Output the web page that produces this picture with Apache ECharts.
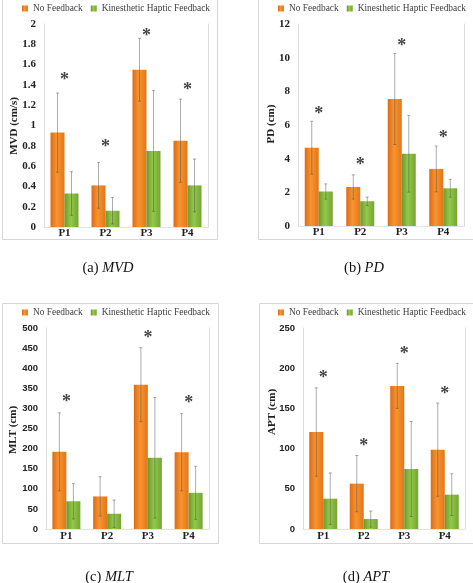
<!DOCTYPE html>
<html>
<head>
<meta charset="utf-8">
<script src="https://cdn.jsdelivr.net/npm/echarts@6/dist/echarts.min.js"></script>
<style>
html,body{margin:0;padding:0;background:#fff;}
#chart{width:473px;height:583px;}
</style>
</head>
<body>
<div id="chart"></div>
<script>
// ---------- DATA ----------
const categories = ['P1', 'P2', 'P3', 'P4'];
const seriesNames = ['No Feedback', 'Kinesthetic Haptic Feedback'];

// (a) MVD (cm/s)
const mvdNoFeedback = [0.93, 0.41, 1.55, 0.85];
const mvdNoFeedbackSd = [0.39, 0.225, 0.31, 0.41];
const mvdHaptic = [0.33, 0.16, 0.75, 0.41];
const mvdHapticSd = [0.215, 0.13, 0.595, 0.26];
const mvdStars = [1.48, 0.82, 1.92, 1.39];
const mvdTicks = { min: 0, max: 2, interval: 0.2 };

// (b) PD (cm)
const pdNoFeedback = [4.65, 2.32, 7.54, 3.39];
const pdNoFeedbackSd = [1.57, 0.72, 2.70, 1.36];
const pdHaptic = [2.05, 1.47, 4.29, 2.24];
const pdHapticSd = [0.45, 0.25, 2.28, 0.53];
const pdStars = [6.9, 3.82, 10.9, 5.45];
const pdTicks = { min: 0, max: 12, interval: 2 };

// (c) MLT (cm)
const mltNoFeedback = [192, 81, 359, 191];
const mltNoFeedbackSd = [97, 49, 92, 96];
const mltHaptic = [69, 38, 177, 90];
const mltHapticSd = [44, 34, 150, 66];
const mltStars = [324, null, 483, 322];
const mltTicks = { min: 0, max: 500, interval: 50 };

// (d) APT (cm)
const aptNoFeedback = [120.6, 56.4, 178, 98.7];
const aptNoFeedbackSd = [55, 35, 28, 58];
const aptHaptic = [37.7, 12.4, 74.6, 42.7];
const aptHapticSd = [32, 10, 59, 26];
const aptStars = [192, 108, 222, 173];
const aptTicks = { min: 0, max: 250, interval: 50 };

// ---------- LAYOUT / STYLE ----------
const panels = [
  { label: '(a) ', italic: 'MVD', axisName: 'MVD (cm/s)', noFb: mvdNoFeedback, noFbSd: mvdNoFeedbackSd, hap: mvdHaptic, hapSd: mvdHapticSd, stars: mvdStars, ticks: mvdTicks,
    grid: { left: 44, top: 24, width: 164, height: 203 }, tickFont: 'Liberation Serif', tickSize: 11, legend: { left: 22, top: 4 },
    frame: { x: 2, y: -2, w: 215, h: 241 }, caption: { x: 108, y: 268 }, nameX: 14, nameY: 126, catMargin: 1 },
  { label: '(b) ', italic: 'PD', axisName: 'PD (cm)', noFb: pdNoFeedback, noFbSd: pdNoFeedbackSd, hap: pdHaptic, hapSd: pdHapticSd, stars: pdStars, ticks: pdTicks,
    grid: { left: 298, top: 24, width: 166, height: 202 }, tickFont: 'Liberation Serif', tickSize: 11, legend: { left: 278, top: 4 },
    frame: { x: 258, y: -2, w: 220, h: 241 }, caption: { x: 364, y: 268 }, nameX: 271, nameY: 124, catMargin: 1 },
  { label: '(c) ', italic: 'MLT', axisName: 'MLT (cm)', noFb: mltNoFeedback, noFbSd: mltNoFeedbackSd, hap: mltHaptic, hapSd: mltHapticSd, stars: mltStars, ticks: mltTicks,
    grid: { left: 46, top: 328, width: 163, height: 201 }, tickFont: 'Liberation Sans', tickSize: 9.5, legend: { left: 22, top: 308 },
    frame: { x: 2, y: 303, w: 216, h: 240 }, caption: { x: 109, y: 577 }, nameX: 13, nameY: 430, catMargin: 2 },
  { label: '(d) ', italic: 'APT', axisName: 'APT (cm)', noFb: aptNoFeedback, noFbSd: aptNoFeedbackSd, hap: aptHaptic, hapSd: aptHapticSd, stars: aptStars, ticks: aptTicks,
    grid: { left: 303, top: 328, width: 162, height: 201 }, tickFont: 'Liberation Sans', tickSize: 9.5, legend: { left: 278, top: 308 },
    frame: { x: 259, y: 303, w: 220, h: 240 }, caption: { x: 366, y: 577 }, nameX: 272, nameY: 412, catMargin: 2 }
];

const orangeFill = new echarts.graphic.LinearGradient(0, 0, 1, 0, [
  { offset: 0, color: '#DD6B17' }, { offset: 0.45, color: '#F79530' }, { offset: 1, color: '#E37619' }
]);
const greenFill = new echarts.graphic.LinearGradient(0, 0, 1, 0, [
  { offset: 0, color: '#6C9A2C' }, { offset: 0.45, color: '#93C94A' }, { offset: 1, color: '#75A532' }
]);
const BAR_W = 14;
const errStyle = { stroke: 'rgba(70,70,70,0.45)', lineWidth: 1 };

function errRender(offset) {
  return function (params, api) {
    const i = api.value(0), m = api.value(1), s = api.value(2);
    const top = api.coord([i, m + s]);
    const bot = api.coord([i, m - s]);
    const x = top[0] + offset;
    const c = 1.5;
    return {
      type: 'group',
      children: [
        { type: 'line', shape: { x1: x, y1: top[1], x2: x, y2: bot[1] }, style: errStyle },
        { type: 'line', shape: { x1: x - c, y1: top[1], x2: x + c, y2: top[1] }, style: errStyle },
        { type: 'line', shape: { x1: x - c, y1: bot[1], x2: x + c, y2: bot[1] }, style: errStyle }
      ]
    };
  };
}

const option = {
  animation: false,
  backgroundColor: '#fff',
  grid: [], xAxis: [], yAxis: [], series: [], legend: [], graphic: []
};

panels.forEach((p, k) => {
  option.grid.push(Object.assign({ containLabel: false }, p.grid));
  option.xAxis.push({
    type: 'category', gridIndex: k, data: categories,
    axisLine: { show: true, lineStyle: { color: '#e3e3e3' } },
    axisTick: { show: false },
    axisLabel: { fontFamily: 'Liberation Serif', fontWeight: 'bold', fontSize: 11, color: '#222', margin: p.catMargin }
  });
  option.yAxis.push({
    type: 'value', gridIndex: k, min: p.ticks.min, max: p.ticks.max, interval: p.ticks.interval,
    axisLine: { show: true, lineStyle: { color: '#dcdcdc' } },
    axisTick: { show: false },
    splitLine: { show: false },
    axisLabel: { fontFamily: p.tickFont, fontWeight: 'bold', fontSize: p.tickSize, color: '#222', margin: 8 }
  });
  option.yAxis.push({
    type: 'value', gridIndex: k, position: 'right', min: p.ticks.min, max: p.ticks.max, interval: p.ticks.interval,
    axisLine: { show: true, lineStyle: { color: '#dcdcdc' } },
    axisTick: { show: false }, axisLabel: { show: false }, splitLine: { show: false }
  });
  const yi = k * 2;
  option.series.push({
    name: seriesNames[0], type: 'bar', xAxisIndex: k, yAxisIndex: yi, data: p.noFb,
    barWidth: BAR_W, barGap: '0%', itemStyle: { color: orangeFill }
  });
  option.series.push({
    name: seriesNames[1], type: 'bar', xAxisIndex: k, yAxisIndex: yi, data: p.hap,
    barWidth: BAR_W, barGap: '0%', itemStyle: { color: greenFill }
  });
  option.series.push({
    type: 'custom', xAxisIndex: k, yAxisIndex: yi, z: 5, renderItem: errRender(-BAR_W / 2),
    encode: { x: 0, y: 1 },
    data: categories.map((c, i) => [i, p.noFb[i], p.noFbSd[i]])
  });
  option.series.push({
    type: 'custom', xAxisIndex: k, yAxisIndex: yi, z: 5, renderItem: errRender(BAR_W / 2),
    encode: { x: 0, y: 1 },
    data: categories.map((c, i) => [i, p.hap[i], p.hapSd[i]])
  });
  option.series.push({
    type: 'scatter', xAxisIndex: k, yAxisIndex: yi, z: 6, symbolSize: 1,
    itemStyle: { color: 'rgba(0,0,0,0)' },
    label: { show: true, position: 'inside', formatter: '*', fontFamily: 'Liberation Serif', fontWeight: 'bold',
      fontSize: 18, color: '#111', offset: [0, 4] },
    data: categories.map((c, i) => p.stars[i] == null ? null : [i, p.stars[i]]).filter(d => d)
  });
  option.legend.push({
    left: p.legend.left, top: p.legend.top, padding: 0, width: 200, orient: 'horizontal',
    data: seriesNames, itemWidth: 6, itemHeight: 6, itemGap: 8,
    icon: 'rect', selectedMode: false,
    textStyle: { fontFamily: 'Liberation Serif', fontSize: 9.4, color: '#404040' }
  });
  option.graphic.push({
    type: 'rect', silent: true, z: -10,
    shape: { x: p.frame.x + 0.5, y: p.frame.y + 0.5, width: p.frame.w, height: p.frame.h },
    style: { fill: 'none', stroke: '#d6d6d6', lineWidth: 1 }
  });
  option.graphic.push({
    type: 'text', x: p.nameX, y: p.nameY, rotation: Math.PI / 2,
    style: { text: p.axisName, font: 'bold 11px "Liberation Serif"', fill: '#222', align: 'center', verticalAlign: 'middle' }
  });
  option.graphic.push({
    type: 'text', x: p.caption.x, y: p.caption.y,
    style: {
      text: '{n|' + p.label + '}{i|' + p.italic + '}', align: 'center', verticalAlign: 'middle',
      rich: {
        n: { fontFamily: 'Liberation Serif', fontSize: 14.5, fill: '#111', color: '#111' },
        i: { fontFamily: 'Liberation Serif', fontStyle: 'italic', fontSize: 14.5, fill: '#111', color: '#111' }
      }
    }
  });
});

const chart = echarts.init(document.getElementById('chart'), null, { renderer: 'canvas' });
chart.setOption(option);
</script>
</body>
</html>
